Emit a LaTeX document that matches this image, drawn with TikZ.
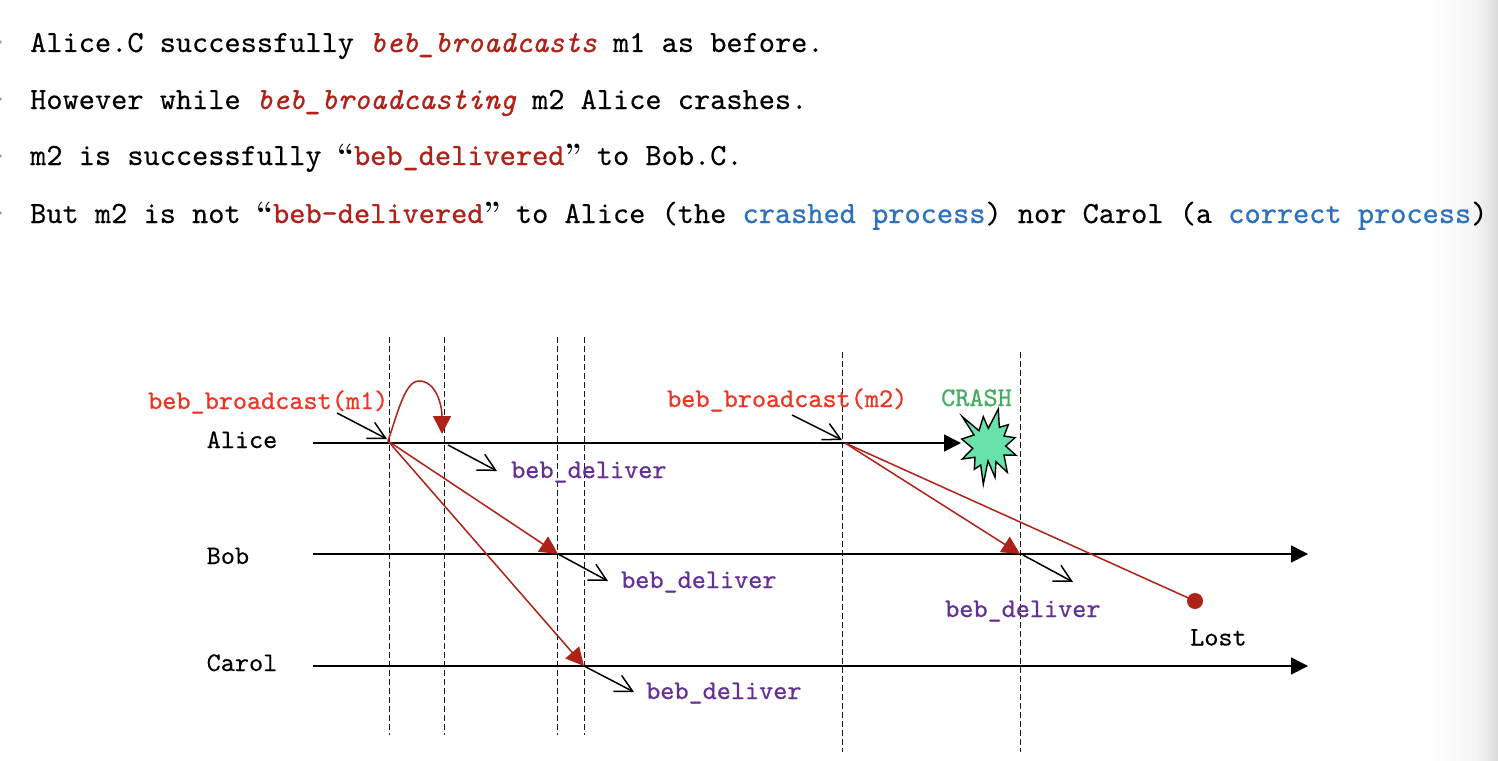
\documentclass[tikz,border=0pt]{standalone}
\usepackage{fontspec}
\setmonofont{lmmono10-regular.otf}[ItalicFont=lmmono10-italic.otf]
\usetikzlibrary{arrows.meta}
\definecolor{dred}{HTML}{AE2218}
\definecolor{lred}{HTML}{EE3524}
\definecolor{bluet}{HTML}{2E72BE}
\definecolor{purp}{HTML}{653096}
\definecolor{grn}{HTML}{43AE5F}
\definecolor{mint}{HTML}{66E2AA}
\newcommand{\heavy}{\addfontfeature{FakeBold=0.25}}
\newcommand{\heavier}{\addfontfeature{FakeBold=0.7}}
\newcommand{\rb}[1]{\textcolor{dred}{\heavier #1}}
\newcommand{\rit}[1]{\textcolor{dred}{\itshape\heavier #1}}
\newcommand{\bl}[1]{\textcolor{bluet}{\heavier #1}}
\newcommand{\qopen}{\makebox[0.525em][r]{\rmfamily\bfseries “}}
\newcommand{\qclose}{\makebox[0.525em][l]{\rmfamily\bfseries ”}}
\tikzset{
 x=1pt,y=-1pt,
 textline/.style={anchor=base west,inner sep=0pt,font=\fontsize{30.84}{32}\selectfont\ttfamily\heavy},
 lab/.style={anchor=base west,inner sep=0pt,font=\fontsize{26.9}{28}\selectfont\ttfamily\heavy},
 boldlab/.style={anchor=base west,inner sep=0pt,font=\fontsize{26.9}{28}\selectfont\ttfamily\heavier},
 act/.style={boldlab,text=lred},
 deliv/.style={boldlab,text=purp},
 proc/.style={line width=1.5pt,black,-{Triangle[length=17pt,width=17pt]}},
 vline/.style={line width=1.1pt,black!90,dash pattern=on 5.5pt off 3.5pt},
 msg/.style={line width=1.5pt,dred,-{Triangle[length=18pt,width=18pt]}},
 ptr/.style={line width=1.5pt,black,-{Straight Barb[length=17pt,width=18pt,line width=1.5pt]}},
}
\begin{document}
\begin{tikzpicture}
\useasboundingbox (0,0) rectangle (1498,760);
\fill[white] (0,0) rectangle (1498,760);
\shade[left color=white,right color=black!4] (1430,0) rectangle (1476,760);
\shade[left color=black!4,right color=black!14] (1476,0) rectangle (1498,760);
\foreach \yy in {42,99,156,213} \fill[black!40] (0,\yy) circle (1.8);
\node[textline] (t1) at (30,52) {Alice.C successfully \rit{beb\_broadcasts} m1 as before.};
\node[textline] (t2) at (30,109) {However while \rit{beb\_broadcasting} m2 Alice crashes.};
\node[textline] (t3) at (30,165) {m2 is successfully \qopen\rb{beb\_delivered}\qclose{} to Bob.C.};
\node[textline] (t4) at (30,223) {But m2 is not \qopen\rb{beb-delivered}\qclose{} to Alice (the \bl{crashed process}) nor Carol (a \bl{correct process})};
\coordinate (a0) at (313,443); \coordinate (a1) at (961,443);
\coordinate (b0) at (313,554); \coordinate (b1) at (1308,554);
\coordinate (c0) at (313,666); \coordinate (c1) at (1308,666);
\foreach \n/\xx/\ya/\yb in {v1/389.5/337/735,v2/444.5/337/735,v3/557.5/337/735,v4/584.5/337/735,v5/842.5/352/752,v6/1020.5/352/752}{
 \coordinate (\n t) at (\xx,\ya); \coordinate (\n b) at (\xx,\yb);
 \draw[vline] (\n t) -- (\n b);
}
\draw[proc] (a0) -- (a1);
\draw[proc] (b0) -- (b1);
\draw[proc] (c0) -- (c1);
\node[lab] (alice) at (206.5,448) {Alice};
\node[lab] (bob) at (206.5,564) {Bob};
\node[lab] (carol) at (206.5,671) {Carol};
\node[act] (bb1) at (148,409) {beb\_broadcast(m1)};
\node[act] (bb2) at (667,407) {beb\_broadcast(m2)};
\node[boldlab,text=grn] (crash) at (941,406) {CRASH};
\node[deliv] (d1) at (511,478) {beb\_deliver};
\node[deliv] (d2) at (621,588) {beb\_deliver};
\node[deliv] (d3) at (646,699) {beb\_deliver};
\node[deliv] (d4) at (945,617) {beb\_deliver};
\node[lab] (lost) at (1190,645.5) {Lost};
\draw[line width=1.4pt,fill=mint,line join=miter,miter limit=10]
 (962.3,416.7)--(979,430.7)--(983.3,416.7)--(988.3,428.3)--(998.3,409)--(999.3,427.3)--(1008.3,424.7)--(1004,436)--(1015,437.7)--(1005.7,446)--(1016,455.3)--(1004,455)--(1007.3,472.3)--(996,461.7)--(995,477.3)--(988,461)--(983.3,484.3)--(980.7,465)--(974.3,469.3)--(975,457.3)--(962.3,459)--(972.7,448.3)--(961.7,439)--(974,435)--cycle;
\coordinate (s1) at (388,441);
\coordinate (s2) at (845,443);
\draw[msg] (s1) .. controls (398,412) and (405,381) .. (419,381) .. controls (436,381) and (442,405) .. (442,434);
\draw[msg] (s1) -- (558,554);
\draw[msg] (s1) -- (584,666);
\draw[msg] (s2) -- (1020,554);
\coordinate (l) at (1195,601);
\draw[line width=1.5pt,dred] (s2) -- (l);
\fill[dred] (l) circle (8pt);
\coordinate (p1a) at (337,413); \coordinate (p1b) at (387,439);
\coordinate (p2a) at (792,415); \coordinate (p2b) at (842,440);
\draw[ptr] (p1a) -- (p1b);
\draw[ptr] (p2a) -- (p2b);
\coordinate (q1a) at (448,445); \coordinate (q1b) at (497,471);
\coordinate (q2a) at (558,554); \coordinate (q2b) at (608,581);
\coordinate (q3a) at (584,666); \coordinate (q3b) at (634,692);
\coordinate (q4a) at (1023,555); \coordinate (q4b) at (1073,582);
\draw[ptr] (q1a) -- (q1b);
\draw[ptr] (q2a) -- (q2b);
\draw[ptr] (q3a) -- (q3b);
\draw[ptr] (q4a) -- (q4b);
\end{tikzpicture}
\end{document}
